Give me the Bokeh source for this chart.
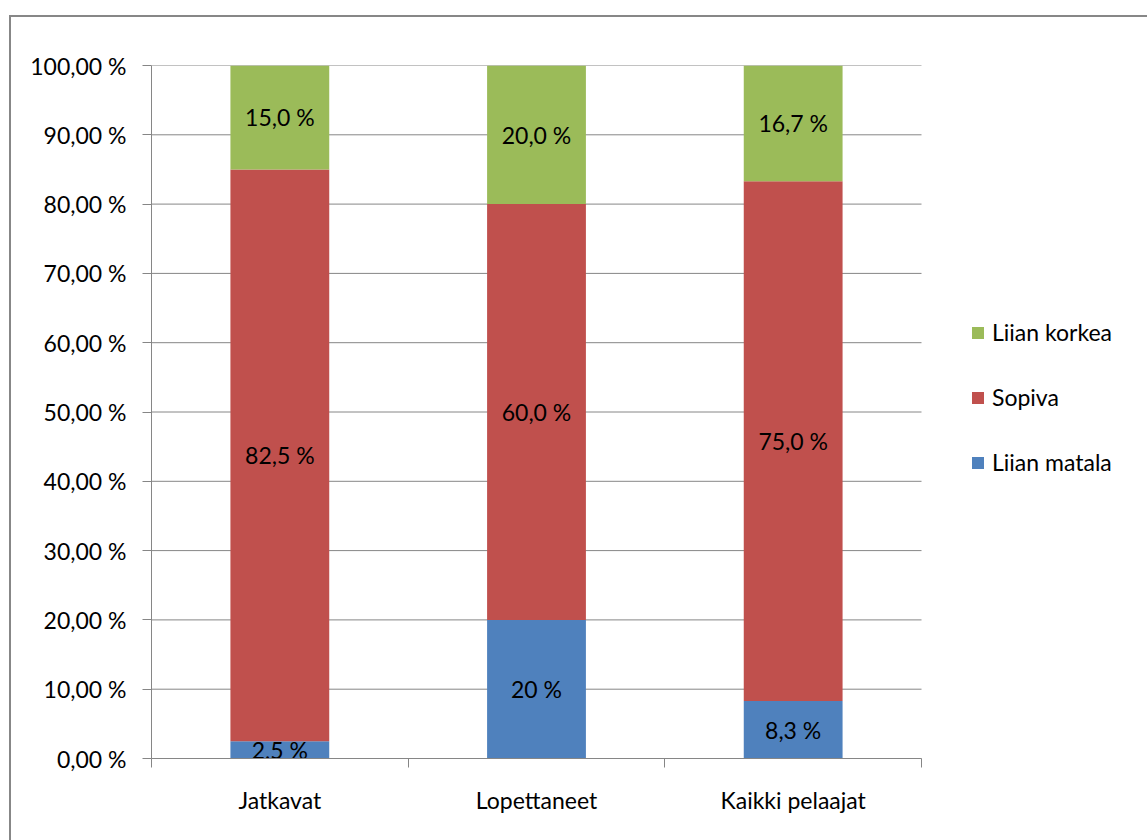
from bokeh.plotting import figure
from bokeh.models import (ColumnDataSource, FixedTicker, Legend, LegendItem,
                          Range1d, InlineStyleSheet)
from bokeh.core.properties import value
from bokeh.embed import file_html
from bokeh.resources import INLINE

# Data
categories = ["Jatkavat", "Lopettaneet", "Kaikki pelaajat"]
liian_matala = [2.5, 20.0, 8.3]
sopiva = [82.5, 60.0, 75.0]
liian_korkea = [15.0, 20.0, 16.7]
matala_decimals = [1, 0, 1]
y_ticks = [0, 10, 20, 30, 40, 50, 60, 70, 80, 90, 100]

FONT = "Lato"
FS = "23px"
GRAY = "#868686"
BLUE, RED, GREEN = "#4F81BD", "#C0504D", "#9BBB59"

W, H = 1147, 840
LEFT, TOP, BOTTOM = 151, 65, 82
PLOT_W = 770          # width of the category area in pixels
n = len(categories)
xs = [i + 0.5 for i in range(n)]
# the frame reaches the right edge so that the legend sits inside it
x_end = n * (W - LEFT) / PLOT_W

def fmt(v, d):
    return (f"{v:.{d}f}").replace(".", ",") + " %"

src = ColumnDataSource(dict(x=xs, matala=liian_matala, sopiva=sopiva, korkea=liian_korkea))

p = figure(width=W, height=H, output_backend="svg", toolbar_location=None,
           x_range=Range1d(0, x_end), y_range=Range1d(0, 100),
           min_border_left=LEFT, min_border_right=0, min_border_top=TOP,
           min_border_bottom=BOTTOM)
p.outline_line_color = None
p.background_fill_color = "white"
p.border_fill_color = "white"

# Horizontal gridlines over the category area only
p.xgrid.grid_line_color = None
p.ygrid.grid_line_color = None
p.segment(x0=[0] * len(y_ticks), x1=[n] * len(y_ticks), y0=y_ticks, y1=y_ticks,
          line_color=GRAY, line_width=1)

renderers = p.vbar_stack(["matala", "sopiva", "korkea"], x="x", width=0.385,
                         color=[BLUE, RED, GREEN], line_color=None, source=src)

# Segment value labels
lx, ly, lt = [], [], []
for i, x in enumerate(xs):
    m, s, k = liian_matala[i], sopiva[i], liian_korkea[i]
    lx += [x, x, x]
    ly += [m / 2, m + s / 2, m + s + k / 2]
    lt += [fmt(m, matala_decimals[i]), fmt(s, 1), fmt(k, 1)]
p.text(x=lx, y=ly, text=lt, text_align="center", text_baseline="middle",
       text_font=value(FONT), text_font_size=FS, text_color="black")

# Y axis
p.yaxis.ticker = FixedTicker(ticks=y_ticks)
p.yaxis.major_label_overrides = {t: f"{t},00 %" for t in y_ticks}
p.yaxis.axis_line_color = GRAY
p.yaxis.major_tick_line_color = GRAY
p.yaxis.major_tick_out = 9
p.yaxis.major_tick_in = 0
p.yaxis.minor_tick_line_color = None
p.yaxis.major_label_standoff = 16
p.yaxis.major_label_text_font = FONT
p.yaxis.major_label_text_font_size = FS
p.yaxis.major_label_text_color = "black"

# X axis: labels at centres, separator ticks at category boundaries
p.xaxis.bounds = (0, n)
p.xaxis.ticker = FixedTicker(ticks=xs, minor_ticks=list(range(n + 1)))
p.xaxis.major_label_overrides = {x: c for x, c in zip(xs, categories)}
p.xaxis.axis_line_color = GRAY
p.xaxis.major_tick_line_color = None
p.xaxis.minor_tick_line_color = GRAY
p.xaxis.minor_tick_out = 9
p.xaxis.minor_tick_in = 0
p.xaxis.major_label_standoff = 18
p.xaxis.major_label_text_font = FONT
p.xaxis.major_label_text_font_size = FS
p.xaxis.major_label_text_color = "black"

# Legend, top item first
items = [LegendItem(label="Liian korkea", renderers=[renderers[2]]),
         LegendItem(label="Sopiva", renderers=[renderers[1]]),
         LegendItem(label="Liian matala", renderers=[renderers[0]])]
legend = Legend(items=items, location=(819, 282), padding=0, margin=0,
                spacing=37, glyph_width=15, glyph_height=15, label_standoff=7,
                label_text_font=FONT, label_text_font_size=FS,
                label_text_color="black", border_line_color=None,
                background_fill_alpha=0)
p.add_layout(legend, "center")

# Chart border along the left and top
p.stylesheets = [InlineStyleSheet(css="""
:host { position: relative; overflow: hidden; }
:host::after {
  content: ""; position: absolute; left: 9px; top: 15px; right: 0; bottom: 0;
  border-left: 2px solid #878787; border-top: 2px solid #878787;
  pointer-events: none; z-index: 10;
}
""")]

open("out.html", "w").write(file_html(p, INLINE))
